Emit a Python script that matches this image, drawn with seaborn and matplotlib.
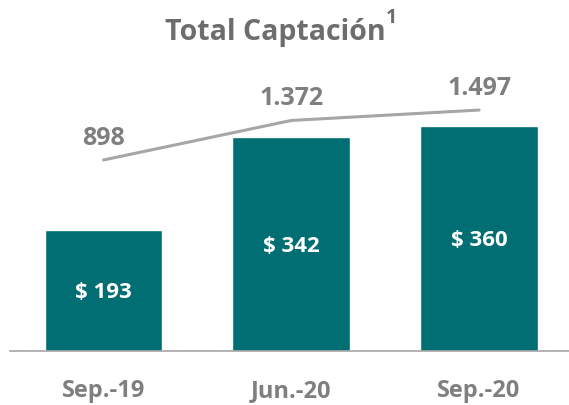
import numpy as np
import pandas as pd
import matplotlib
matplotlib.use("Agg")
import matplotlib.pyplot as plt
import seaborn as sns

# Datos del gráfico
periodos = ["Sep.-19", "Jun.-20", "Sep.-20"]
captacion = [193, 342, 360]          # barras (miles de millones)
clientes = [898, 1372, 1497]         # línea (eje secundario)
etiquetas_barras = ["$ 193", "$ 342", "$ 360"]
etiquetas_linea = ["898", "1.372", "1.497"]

TEAL = "#006E73"
GRIS_TXT = "#7F7F7F"
GRIS_TITULO = "#6D6D6D"
GRIS_LINEA = "#A6A6A6"

sns.set_style("white")
plt.rcParams["font.family"] = ["Open Sans", "DejaVu Sans"]

df = pd.DataFrame({"periodo": periodos, "captacion": captacion, "clientes": clientes})

fig = plt.figure(figsize=(5.69, 4.05), dpi=100)
ax = fig.add_axes([10 / 569, (405 - 351) / 405, 559 / 569, 301 / 405])

sns.barplot(data=df, x="periodo", y="captacion", color=TEAL, saturation=1,
            width=0.628, ax=ax)
ax.set_xlim(-0.498, 2.479)
ax.set_ylim(0, 301 * 1.6)

for i, txt in enumerate(etiquetas_barras):
    ax.text(i, captacion[i] / 2 - 3, txt, ha="center", va="center", color="white",
            fontsize=16, fontweight="bold")

ax2 = ax.twinx()
sns.lineplot(x=np.arange(len(clientes)), y=clientes, color=GRIS_LINEA,
             linewidth=2.2, ax=ax2)
ax2.set_ylim(-(351 - 234.8) * 12, (234.8 - 50) * 12)
for i, txt in enumerate(etiquetas_linea):
    ax2.annotate(txt, (i, clientes[i]), xytext=(0, 6.5), textcoords="offset points",
                 ha="center", va="bottom", color=GRIS_TXT, fontsize=18,
                 fontweight="bold")

for a in (ax, ax2):
    for s in a.spines.values():
        s.set_visible(False)
    a.set_yticks([])
    a.set_ylabel("")
ax.spines["bottom"].set_visible(True)
ax.spines["bottom"].set_color(GRIS_LINEA)
ax.spines["bottom"].set_linewidth(1.2)
ax.set_xlabel("")
ax.tick_params(axis="x", length=0, pad=20, labelsize=17, labelcolor=GRIS_TXT)
for lbl in ax.get_xticklabels():
    lbl.set_fontweight("bold")

fig.text(275 / 569, 1 - 40 / 405, "Total Captación", ha="center", va="baseline",
         fontsize=20.5, fontweight="bold", color=GRIS_TITULO)
fig.text(386 / 569, 1 - 23 / 405, "1", ha="left", va="baseline",
         fontsize=14, fontweight="bold", color=GRIS_TITULO)

fig.savefig("out.png", dpi=100)
